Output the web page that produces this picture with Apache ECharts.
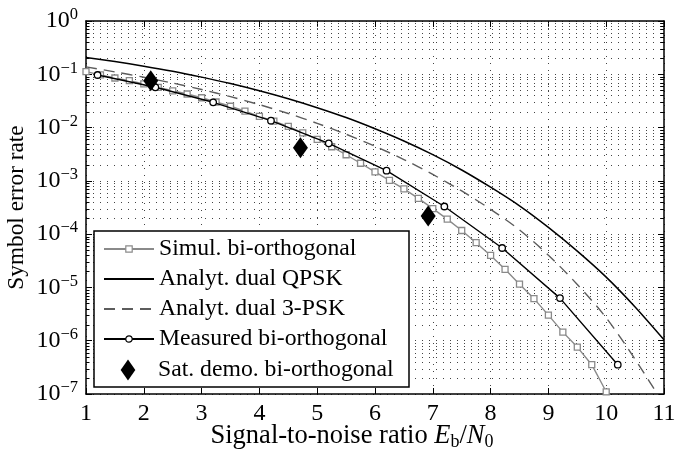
<!DOCTYPE html>
<html>
<head>
<meta charset="utf-8">
<script src="https://cdn.jsdelivr.net/npm/echarts@6/dist/echarts.min.js"></script>
<style>
  html, body { margin: 0; padding: 0; background: #fff; }
  #chart { width: 676px; height: 452px; }
</style>
</head>
<body>
<div id="chart"></div>
<script>
// Symbol error rate versus Eb/N0 (dB)
const xTicks = [1, 2, 3, 4, 5, 6, 7, 8, 9, 10, 11];
const decadeExponents = [0, -1, -2, -3, -4, -5, -6, -7];

const simulX = [1.00, 1.25, 1.50, 1.75, 2.00, 2.25, 2.50, 2.75, 3.00, 3.25, 3.50, 3.75,
                4.00, 4.25, 4.50, 4.75, 5.00, 5.25, 5.50, 5.75, 6.00, 6.25, 6.50, 6.75,
                7.00, 7.25, 7.50, 7.75, 8.00, 8.25, 8.50, 8.75, 9.00, 9.25, 9.50, 9.75, 10.00];
const simulY = [0.112, 0.0977, 0.0851, 0.0759, 0.0661, 0.0569, 0.0490, 0.0427, 0.0363, 0.0302,
                0.0251, 0.0204, 0.0162, 0.0132, 0.0105, 7.94e-3, 6.03e-3, 4.37e-3, 3.09e-3,
                2.14e-3, 1.48e-3, 1.02e-3, 7.08e-4, 4.68e-4, 3.02e-4, 1.91e-4, 1.17e-4, 6.92e-5,
                3.98e-5, 2.19e-5, 1.15e-5, 6.17e-6, 3.02e-6, 1.45e-6, 7.59e-7, 3.55e-7, 1.10e-7];

const analytX = [1, 1.5, 2, 2.5, 3, 3.5, 4, 4.5, 5, 5.5, 6, 6.5, 7, 7.5, 8, 8.5, 9, 9.5, 10, 10.5, 11];
const qpskY = [0.207, 0.173, 0.142, 0.114, 0.0885, 0.067, 0.049, 0.0347, 0.0236, 0.0154, 0.0095,
               0.0056, 0.0031, 0.0016, 7.6e-4, 3.4e-4, 1.34e-4, 4.8e-5, 1.56e-5, 4.3e-6, 1.04e-6];
const psk3Y = [0.138, 0.111, 0.0881, 0.0684, 0.0519, 0.0380, 0.0269, 0.0184, 0.0120, 7.50e-3,
               4.47e-3, 2.51e-3, 1.32e-3, 6.46e-4, 2.92e-4, 1.20e-4, 4.03e-5, 1.135e-5, 2.69e-6,
               4.47e-7, 6.3e-8];

const measuredX = [1.2, 2.2, 3.2, 4.2, 5.2, 6.2, 7.2, 8.2, 9.2, 10.2];
const measuredY = [0.097, 0.057, 0.0298, 0.0135, 5.07e-3, 1.55e-3, 3.3e-4, 5.5e-5, 6.3e-6, 3.55e-7];

const satX = [2.12, 4.71, 6.92];
const satY = [0.076, 4.2e-3, 2.2e-4];

const seriesNames = ['Simul. bi-orthogonal', 'Analyt. dual QPSK', 'Analyt. dual 3-PSK',
                     'Measured bi-orthogonal', 'Sat. demo. bi-orthogonal'];

const FONT = "'Liberation Serif', 'DejaVu Serif', 'Times New Roman', serif";
const zip = (xs, ys) => xs.map((x, i) => [x, ys[i]]);

// minor log grid positions: 2..9 x 10^k
const minorValues = [];
decadeExponents.slice(1).forEach(e => {
  for (let m = 2; m <= 9; m++) minorValues.push(m * Math.pow(10, e));
});

const supDigits = e => (e < 0 ? '\u2212' + (-e) : String(e));

const chart = echarts.init(document.getElementById('chart'), null, { renderer: 'canvas' });

const axisLine = { show: true, onZero: false, lineStyle: { color: '#000', width: 1.5 } };
const gridDots = { show: true, lineStyle: { color: '#444', width: 1, type: [1, 6] } };
const tickText = { fontFamily: FONT, fontSize: 24, color: '#000' };
const legendText = { fontFamily: FONT, fontSize: 23.7, color: '#000' };
const nameText = { fontFamily: FONT, fontSize: 26.5, color: '#000' };

chart.setOption({
  animation: false,
  backgroundColor: '#fff',
  textStyle: { fontFamily: FONT },
  grid: { left: 86, top: 21, width: 578, height: 373, containLabel: false, outerBoundsMode: 'none' },
  xAxis: [
    {
      type: 'value', min: xTicks[0], max: xTicks[xTicks.length - 1], interval: 1, position: 'bottom',
      axisLine: axisLine,
      axisTick: { show: true, inside: true, length: 6, lineStyle: { color: '#000', width: 1 } },
      axisLabel: Object.assign({ margin: 8, showMinLabel: true, showMaxLabel: true }, tickText),
      splitLine: gridDots,
      name: 'Signal-to-noise ratio {i|E}{s|b}/{i|N}{s|0}',
      nameLocation: 'middle', nameGap: 27, nameMoveOverlap: false,
      nameTextStyle: Object.assign({
        padding: [0, 46, 0, 0],
        rich: {
          i: Object.assign({ fontStyle: 'italic' }, nameText),
          s: { fontFamily: FONT, fontSize: 18, color: '#000', padding: [12, 0, 0, 0] }
        }
      }, nameText)
    },
    {
      type: 'value', min: xTicks[0], max: xTicks[xTicks.length - 1], interval: 1, position: 'top',
      axisLine: axisLine,
      axisTick: { show: true, inside: true, length: 6, lineStyle: { color: '#000', width: 1 } },
      axisLabel: { show: false }, splitLine: { show: false }
    }
  ],
  yAxis: [
    {
      type: 'log', logBase: 10, min: 1e-7, max: 1, splitNumber: 7, position: 'left',
      axisLine: axisLine,
      axisTick: { show: true, inside: true, length: 6, lineStyle: { color: '#000', width: 1 } },
      axisLabel: {
        margin: 8, showMinLabel: true, showMaxLabel: true, fontFamily: FONT,
        formatter: v => '{b|10}{e|' + supDigits(Math.round(Math.log10(v))) + '}',
        rich: {
          b: tickText,
          e: { fontFamily: FONT, fontSize: 16.5, color: '#000', padding: [0, 0, 12, 0] }
        }
      },
      splitLine: gridDots,
      name: 'Symbol error rate', nameLocation: 'middle', nameGap: 58, nameMoveOverlap: false,
      nameTextStyle: { fontFamily: FONT, fontSize: 23.3, color: '#000' }
    },
    {
      type: 'log', logBase: 10, min: 1e-7, max: 1, splitNumber: 7, position: 'right',
      axisLine: axisLine,
      axisTick: { show: true, inside: true, length: 6, lineStyle: { color: '#000', width: 1 } },
      axisLabel: { show: false }, splitLine: { show: false }
    }
  ],
  legend: [
    {
      data: [
        { name: seriesNames[0] },
        { name: seriesNames[1], itemStyle: { opacity: 0 } },
        { name: seriesNames[2], itemStyle: { opacity: 0 } },
        { name: seriesNames[3] }
      ],
      orient: 'vertical', left: 103, top: 237, padding: 0,
      itemWidth: 50, itemHeight: 8, itemGap: 6, selectedMode: false, z: 6,
      itemStyle: { borderWidth: 1.2 },
      textStyle: legendText
    },
    {
      data: [{
        name: seriesNames[4], icon: 'path://M0,0M50,21M25,0L32.35,10.5L25,21L17.65,10.5Z',
        itemStyle: { color: '#000', opacity: 1, borderWidth: 0 }
      }],
      orient: 'vertical', left: 103, top: 358, padding: 0,
      itemWidth: 50, itemHeight: 21, selectedMode: false, z: 6,
      textStyle: legendText
    }
  ],
  graphic: [
    { type: 'rect', z: 5, shape: { x: 94, y: 231, width: 315, height: 156 },
      style: { fill: '#fff', stroke: '#000', lineWidth: 1.5 } }
  ],
  series: [
    {
      type: 'custom', name: 'minor-grid', silent: true, z: 1, clip: false,
      xAxisIndex: 0, yAxisIndex: 0,
      data: minorValues.map(v => [xTicks[0], v]), encode: { x: 0, y: 1 },
      renderItem: (params, api) => {
        const cs = params.coordSys;
        const y = Math.round(api.coord([xTicks[0], api.value(1)])[1]) + 0.5;
        const x0 = cs.x, x1 = cs.x + cs.width;
        return {
          type: 'group',
          children: [
            { type: 'line', shape: { x1: x0, y1: y, x2: x1, y2: y },
              style: { stroke: '#444', lineWidth: 1, lineDash: [1, 6] } },
            { type: 'line', shape: { x1: x0, y1: y, x2: x0 + 3.5, y2: y },
              style: { stroke: '#000', lineWidth: 1 } },
            { type: 'line', shape: { x1: x1 - 3.5, y1: y, x2: x1, y2: y },
              style: { stroke: '#000', lineWidth: 1 } }
          ]
        };
      }
    },
    {
      name: seriesNames[0], type: 'line', data: zip(simulX, simulY), z: 3,
      symbol: 'rect', symbolSize: 6, showSymbol: true,
      lineStyle: { color: '#8a8a8a', width: 1.4 },
      itemStyle: { color: '#fff', borderColor: '#8a8a8a', borderWidth: 1.3 }
    },
    {
      name: seriesNames[1], type: 'line', data: zip(analytX, qpskY), z: 2,
      symbol: 'none', smooth: 0.3,
      lineStyle: { color: '#000', width: 1.5 }, itemStyle: { color: '#000' }
    },
    {
      name: seriesNames[2], type: 'line', data: zip(analytX, psk3Y), z: 2,
      symbol: 'none', smooth: 0.3,
      lineStyle: { color: '#5c5c5c', width: 1.4, type: [11, 7] }, itemStyle: { color: '#5c5c5c' }
    },
    {
      name: seriesNames[3], type: 'line', data: zip(measuredX, measuredY), z: 4,
      symbol: 'circle', symbolSize: 6.5,
      lineStyle: { color: '#000', width: 1.4 },
      itemStyle: { color: '#fff', borderColor: '#000', borderWidth: 1.3 }
    },
    {
      name: seriesNames[4], type: 'scatter', data: zip(satX, satY), z: 4,
      symbol: 'diamond', symbolSize: [15, 21],
      itemStyle: { color: '#000', opacity: 1 }
    }
  ]
});
</script>
</body>
</html>
